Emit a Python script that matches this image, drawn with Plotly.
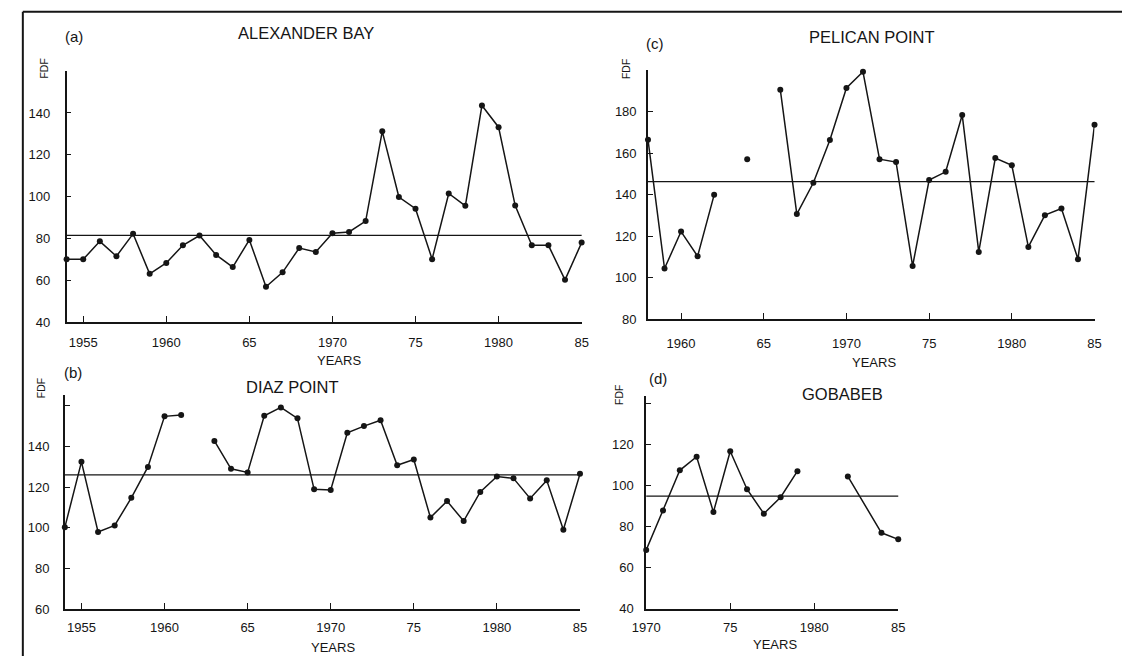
import plotly.graph_objects as go

W, H = 1129, 664

# ---------------- data ----------------
a_years = list(range(1954, 1986))
a_fdf = [70, 70, 78.6, 71.5, 82.2, 63.1, 68.3, 76.7, 81.4, 72.1, 66.3, 79.3, 56.9, 63.8,
         75.4, 73.5, 82.5, 83.1, 88.3, 131.2, 99.8, 94.2, 70.1, 101.5, 95.6, 143.6,
         133.2, 95.7, 76.7, 76.7, 60.2, 78]
a_mean = 81.5

b_years = list(range(1954, 1986))
b_fdf = [100.2, 132.4, 97.9, 101.1, 114.7, 129.9, 154.8, 155.5, None, 142.7, 129, 127.2,
         155.1, 159.2, 153.8, 118.9, 118.6, 146.7, 150, 152.9, 130.7, 133.6, 105, 113.1,
         103.3, 117.6, 125.2, 124.3, 114.4, 123.3, 99, 126.5]
b_mean = 126

c_years = list(range(1958, 1986))
c_fdf = [166.5, 104.4, 122.2, 110.3, 139.9, None, 157, None, 190.6, 130.6, 145.7, 166.3,
         191.4, 199.2, 157.1, 155.7, 105.6, 147, 151, 178.4, 112.4, 157.6, 154.1, 114.8,
         130.1, 133.3, 108.9, 173.7]
c_mean = 146.3

d_years = [1970, 1971, 1972, 1973, 1974, 1975, 1976, 1977, 1978, 1979, 1980, 1981, 1982, 1984, 1985]
d_fdf = [68.5, 87.8, 107.3, 113.9, 87, 116.6, 98.1, 86.2, 94.2, 106.9, None, None, 104.3, 76.9, 73.7]
d_mean = 94.7

x_ticks_long = [1955, 1960, 1965, 1970, 1975, 1980, 1985]
x_text_long = ["1955", "1960", "65", "1970", "75", "1980", "85"]
x_ticks_c = [1960, 1965, 1970, 1975, 1980, 1985]
x_text_c = ["1960", "65", "1970", "75", "1980", "85"]
x_ticks_d = [1970, 1975, 1980, 1985]
x_text_d = ["1970", "75", "1980", "85"]

y_ticks_a = [40, 60, 80, 100, 120, 140, 160]
y_ticks_b = [60, 80, 100, 120, 140, 160]
y_ticks_c = [80, 100, 120, 140, 160, 180, 200]
y_ticks_d = [40, 60, 80, 100, 120, 140]

titles = ["ALEXANDER BAY", "DIAZ POINT", "PELICAN POINT", "GOBABEB"]
letters = ["(a)", "(b)", "(c)", "(d)"]

INK = "#151515"
FONT = "Liberation Sans, Arial, sans-serif"


def px(x):
    return x / W


def py(y):
    return 1 - y / H


fig = go.Figure()

series = [(a_years, a_fdf, "x", "y"), (b_years, b_fdf, "x2", "y2"),
          (c_years, c_fdf, "x3", "y3"), (d_years, d_fdf, "x4", "y4")]
for xs, ys, xa, ya in series:
    fig.add_trace(go.Scatter(x=xs, y=ys, xaxis=xa, yaxis=ya, mode="lines+markers",
                             line=dict(color=INK, width=1.5),
                             marker=dict(color=INK, size=6),
                             connectgaps=False, cliponaxis=False, showlegend=False))

means = [(a_mean, "x", "y"), (b_mean, "x2", "y2"), (c_mean, "x3", "y3"), (d_mean, "x4", "y4")]
shapes = []
for m, xa, ya in means:
    shapes.append(dict(type="line", xref=f"{xa} domain", yref=ya, x0=0, x1=1, y0=m, y1=m,
                       line=dict(color=INK, width=1.3)))
# outer frame (left and top border of the scanned figure)
shapes.append(dict(type="line", xref="paper", yref="paper", x0=px(9), x1=px(9), y0=0, y1=py(12),
                   line=dict(color=INK, width=2)))
shapes.append(dict(type="line", xref="paper", yref="paper", x0=px(9), x1=1, y0=py(12), y1=py(12),
                   line=dict(color=INK, width=2)))


def xaxis(domain, rng, tv, tt, anchor, standoff):
    return dict(domain=domain, range=rng, anchor=anchor, tickmode="array", tickvals=tv,
                ticktext=tt, ticks="inside", ticklen=6, tickwidth=1.3, tickcolor=INK,
                showline=True, linecolor=INK, linewidth=1.6, showgrid=False, zeroline=False,
                tickfont=dict(family=FONT, size=13, color=INK), ticklabelstandoff=standoff)


def yaxis(domain, rng, tv, anchor, standoff):
    tt = [str(v) for v in tv[:-1]] + [""]
    return dict(domain=domain, range=rng, anchor=anchor, tickmode="array", tickvals=tv,
                ticktext=tt, ticks="inside", ticklen=5, tickwidth=1.3, tickcolor=INK,
                showline=True, linecolor=INK, linewidth=1.6, showgrid=False, zeroline=False,
                tickfont=dict(family=FONT, size=13, color=INK), ticklabelstandoff=standoff)


fig.update_layout(
    width=W, height=H, margin=dict(l=0, r=0, t=0, b=0),
    paper_bgcolor="white", plot_bgcolor="white",
    xaxis=xaxis([px(53.6), px(578.4)], [1954, 1985], x_ticks_long, x_text_long, "y", 8),
    yaxis=yaxis([py(326), py(72)], [40, 160], y_ticks_a, "x", 12),
    xaxis2=xaxis([px(51.8), px(576.7)], [1954, 1985], x_ticks_long, x_text_long, "y2", 6),
    yaxis2=yaxis([py(616.5), py(400)], [60, 165.2], y_ticks_b, "x2", 11),
    xaxis3=xaxis([px(646), px(1101)], [1958, 1985], x_ticks_c, x_text_c, "y3", 11),
    yaxis3=yaxis([py(323), py(71)], [80, 200], y_ticks_c, "x3", 7),
    xaxis4=xaxis([px(644.2), px(901)], [1970, 1985], x_ticks_d, x_text_d, "y4", 6),
    yaxis4=yaxis([py(616), py(401)], [40, 143.4], y_ticks_d, "x4", 8),
    shapes=shapes,
)

ann = []


def text(x, y, s, size=13, angle=0):
    ann.append(dict(x=px(x), y=py(y), xref="paper", yref="paper", text=s, showarrow=False,
                    xanchor="center", yanchor="middle", textangle=angle,
                    font=dict(family=FONT, size=size, color=INK)))


# panel letters
text(61, 37, letters[0], 15)
text(60, 377, letters[1], 15)
text(653.5, 44, letters[2], 15)
text(656, 383, letters[3], 15)
# titles
text(298, 33.5, titles[0], 16.5)
text(284, 392, titles[1], 16.5)
text(874, 37.5, titles[2], 16.5)
text(844, 398.5, titles[3], 16.5)
# FDF labels
text(31, 69, "FDF", 10.5, -90)
text(27.5, 393, "FDF", 10.5, -90)
text(623.5, 70, "FDF", 10.5, -90)
text(616.2, 400, "FDF", 10.5, -90)
# YEARS labels
text(331, 365, "YEARS", 13)
text(325, 655, "YEARS", 13)
text(876.5, 366.5, "YEARS", 13)
text(775, 652.5, "YEARS", 13)

fig.update_layout(annotations=ann)

fig.write_html("out.html")
